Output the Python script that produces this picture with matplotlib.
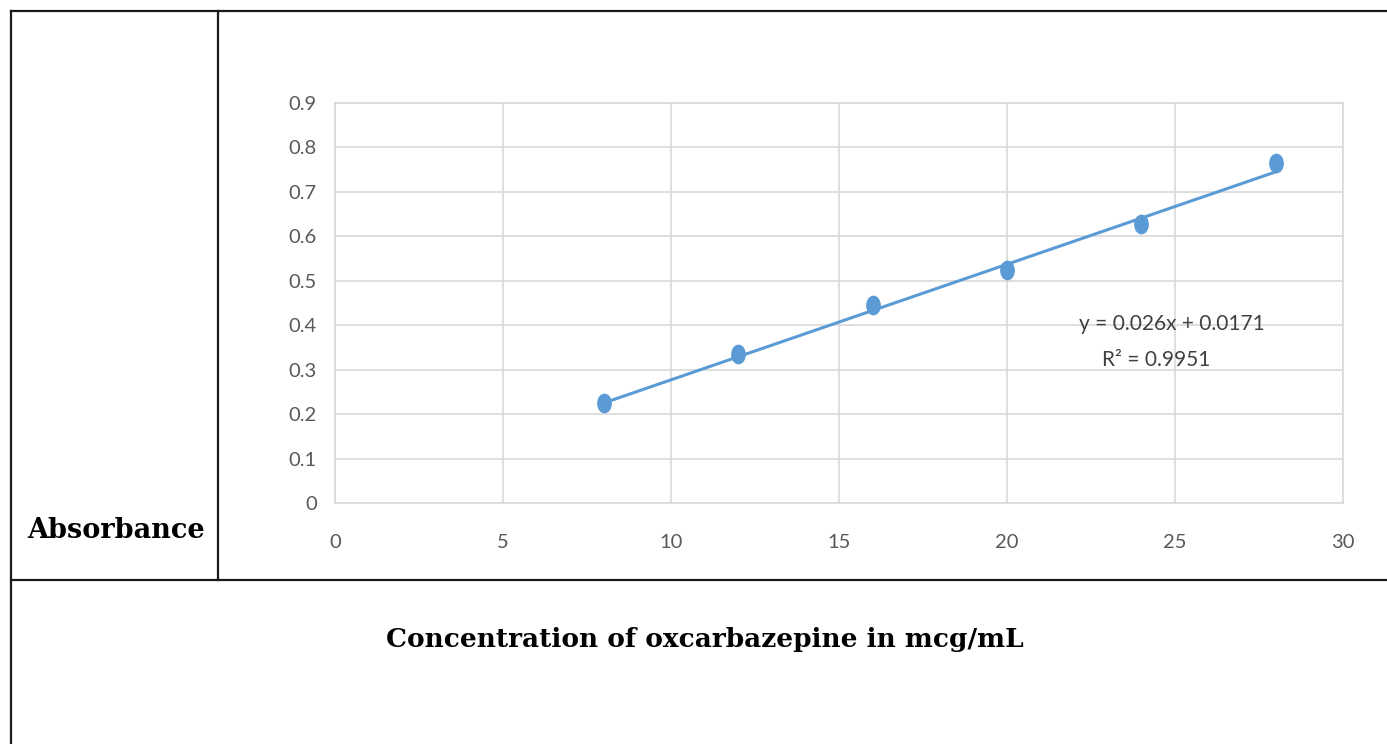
import numpy as np
import matplotlib
matplotlib.use("Agg")
import matplotlib.pyplot as plt
from matplotlib.markers import MarkerStyle
from matplotlib.transforms import Affine2D
from matplotlib.lines import Line2D

plt.rcParams['font.family'] = ['Lato', 'DejaVu Sans']

# data
conc = [8, 12, 16, 20, 24, 28]
absorb = [0.225, 0.335, 0.445, 0.524, 0.627, 0.765]
slope, intercept = 0.026, 0.0171
xticks = [0, 5, 10, 15, 20, 25, 30]
yticks = [0, 0.1, 0.2, 0.3, 0.4, 0.5, 0.6, 0.7, 0.8, 0.9]
ytick_labels = ["0", "0.1", "0.2", "0.3", "0.4", "0.5", "0.6", "0.7", "0.8", "0.9"]

blue = "#5B9BD5"
grid = "#D9D9D9"

fig = plt.figure(figsize=(13.87, 7.44), dpi=100)
ax = fig.add_axes([335/1387, 1-503/744, (1343-335)/1387, (503-103)/744])

xfit = np.array([conc[0], conc[-1]])
ax.plot(xfit, slope*xfit + intercept, color=blue, lw=2.2, zorder=3)
mk = MarkerStyle("o", transform=Affine2D().scale(0.8, 1.1))
ax.plot(conc, absorb, ls="none", marker=mk, ms=12, color=blue, zorder=4)

ax.set_xlim(0, 30)
ax.set_ylim(0, 0.9)
ax.set_xticks(xticks)
ax.set_yticks(yticks)
ax.set_yticklabels(ytick_labels)
ax.grid(True, color=grid, lw=1.2)
ax.set_axisbelow(True)
for s in ax.spines.values():
    s.set_color(grid)
    s.set_linewidth(1.2)
ax.tick_params(length=0, colors="#595959", labelsize=14.5)
ax.tick_params(axis="x", pad=22)
ax.tick_params(axis="y", pad=13)

ax.text(24.9, 0.402, "y = 0.026x + 0.0171", ha="center", va="center",
        fontsize=15, color="#404040")
ax.text(24.45, 0.322, "R² = 0.9951", ha="center", va="center",
        fontsize=15, color="#404040")

# table frame around the chart
W, H = 1387, 744
def seg(x0, y0, x1, y1):
    fig.add_artist(Line2D([x0/W, x1/W], [1-y0/H, 1-y1/H], color="#1a1a1a",
                          lw=1.6, transform=fig.transFigure))
seg(11, 11, 1387, 11)
seg(11, 11, 11, 744)
seg(218, 11, 218, 580)
seg(11, 580, 1387, 580)

fig.text(116/W, 1-530/H, "Absorbance", ha="center", va="center",
         fontsize=19.5, fontweight="bold", family="DejaVu Serif")
fig.text(705/W, 1-640/H, "Concentration of oxcarbazepine in mcg/mL", ha="center",
         va="center", fontsize=19, fontweight="bold", family="DejaVu Serif")

fig.savefig("out.png", dpi=100)
